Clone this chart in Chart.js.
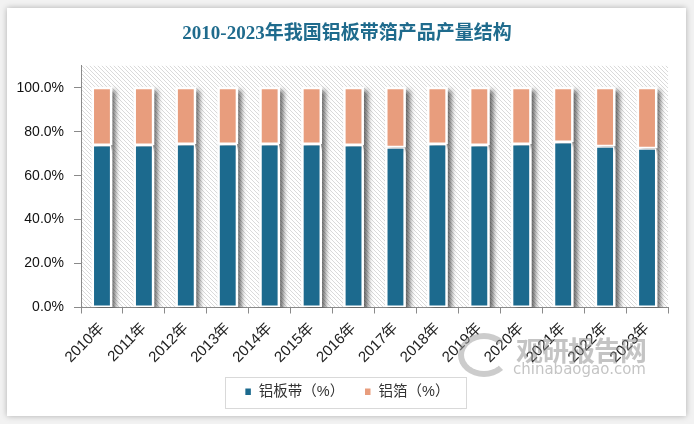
<!DOCTYPE html>
<html>
<head>
<meta charset="utf-8">
<script src="https://cdn.jsdelivr.net/npm/chart.js@4/dist/chart.umd.min.js"></script>
<style>
  html,body{margin:0;padding:0;background:#f2f2f2;}
  #wrap{position:relative;width:694px;height:424px;overflow:hidden;}
  #card{position:absolute;left:7px;top:8px;width:679px;height:408px;background:#fff;box-shadow:0 0 6px rgba(0,0,0,0.28);}
  canvas{position:absolute;left:0;top:0;}
  #wm{position:absolute;left:458px;top:330px;pointer-events:none;opacity:0.5;}
  #wm .ring{position:absolute;left:0;top:3px;width:40px;height:32px;border:6px solid #9a9a9a;border-radius:50%;border-right-color:transparent;}
  #wm .cn{position:absolute;left:58px;top:0;font:bold 27px "Noto Sans CJK SC";color:#8a8a8a;white-space:nowrap;letter-spacing:-1px;}
  #wm .en{position:absolute;left:55px;top:30px;font:15px "DejaVu Sans";color:#8a8a8a;white-space:nowrap;}
</style>
</head>
<body>
<div id="wrap">
  <div id="card"></div>
  <canvas id="grafico" width="694" height="424"></canvas>
  <div id="wm"><div class="ring"></div><div class="cn">观研报告网</div><div class="en">chinabaogao.com</div></div>
</div>
<script>
const anos = ['2010年','2011年','2012年','2013年','2014年','2015年','2016年','2017年','2018年','2019年','2020年','2021年','2022年','2023年'];
const chapa = [73.9,73.9,74.4,74.4,74.4,74.4,73.9,72.9,74.4,73.9,74.4,75.3,73.4,72.5];
const folha = [26.1,26.1,25.6,25.6,25.6,25.6,26.1,27.1,25.6,26.1,25.6,24.7,26.6,27.5];
const yTicks = [0,20,40,60,80,100];

function hatch(){
  const c=document.createElement('canvas'); c.width=c.height=4;
  const g=c.getContext('2d');
  g.fillStyle='#fff'; g.fillRect(0,0,4,4);
  g.strokeStyle='#dadada'; g.lineWidth=1;
  g.beginPath();
  g.moveTo(0,0); g.lineTo(4,4);
  g.moveTo(-1,3); g.lineTo(1,5);
  g.moveTo(3,-1); g.lineTo(5,1);
  g.stroke();
  return c;
}

const fundo = {
  id:'fundo',
  beforeDraw(chart){
    const {ctx,chartArea:a}=chart;
    ctx.save();
    ctx.fillStyle=ctx.createPattern(hatch(),'repeat');
    ctx.fillRect(a.left,a.top,a.right-a.left,a.bottom-a.top);
    ctx.restore();
  }
};

// shadow + white outline under the bars
const sombra = {
  id:'sombra',
  beforeDatasetsDraw(chart){
    const {ctx,chartArea:a}=chart;
    ctx.save();
    ctx.beginPath(); ctx.rect(a.left,a.top,a.right-a.left,a.bottom-a.top); ctx.clip();
    ctx.shadowColor='rgba(0,0,0,0.6)';
    ctx.shadowBlur=5;
    ctx.shadowOffsetX=4;
    ctx.shadowOffsetY=3;
    ctx.fillStyle='#fff';
    chart.getSortedVisibleDatasetMetas().forEach(meta=>{
      meta.data.forEach(bar=>{
        const {x,y,base,width}=bar.getProps(['x','y','base','width'],true);
        ctx.fillRect(x-width/2-1,Math.min(y,base)-1,width+2,Math.abs(base-y)+1);
      });
    });
    ctx.restore();
  }
};

const caixaLegenda = {
  id:'caixaLegenda',
  afterDraw(chart){
    const hb=chart.legend.legendHitBoxes;
    if(!hb||!hb.length) return;
    const l=Math.min(...hb.map(h=>h.left))-20;
    const r=Math.max(...hb.map(h=>h.left+h.width))+16;
    const t=hb[0].top-8, b=hb[0].top+hb[0].height+8;
    const ctx=chart.ctx;
    ctx.save();
    ctx.strokeStyle='#d9d9d9'; ctx.lineWidth=1;
    ctx.strokeRect(Math.round(l)+0.5,Math.round(t)+0.5,Math.round(r-l),Math.round(b-t));
    ctx.restore();
  }
};

new Chart(grafico,{
  type:'bar',
  data:{
    labels:anos,
    datasets:[
      {label:'铝板带（%）',data:chapa,backgroundColor:'#1c6a8e',borderColor:'#fff',borderWidth:1.5,borderSkipped:false,barPercentage:0.45,categoryPercentage:1},
      {label:'铝箔（%）',data:folha,backgroundColor:'#e89d7d',borderColor:'#fff',borderWidth:1.5,borderSkipped:false,barPercentage:0.45,categoryPercentage:1}
    ]
  },
  options:{
    responsive:false,
    animation:false,
    layout:{padding:{left:0,right:0,top:0,bottom:15}},
    plugins:{
      title:{display:true,text:'2010-2023年我国铝板带箔产品产量结构',color:'#1f6b8d',
        font:{family:'"Liberation Serif","Noto Sans CJK SC"',size:19,weight:'bold'},padding:{top:23,bottom:20}},
      legend:{position:'bottom',
        labels:{color:'#333',boxWidth:7,boxHeight:8,padding:20,
          font:{family:'"Liberation Sans","Noto Sans CJK SC"',size:14.5}}},
      tooltip:{enabled:false}
    },
    scales:{
      x:{stacked:true,
        grid:{display:true,drawOnChartArea:false,tickLength:6,color:'#8a8a8a',offset:true},
        border:{color:'#8a8a8a'},
        ticks:{color:'#222',minRotation:45,maxRotation:45,padding:6,
          font:{family:'"Liberation Sans","Noto Sans CJK SC"',size:15}},
        afterFit(s){s.height=57;}
      },
      y:{stacked:true,min:0,max:110,
        grid:{drawOnChartArea:false,tickLength:7,color:'#8a8a8a'},
        border:{color:'#8a8a8a'},
        afterBuildTicks(s){s.ticks=yTicks.map(v=>({value:v}));},
        ticks:{color:'#111',padding:10,
          font:{family:'"Liberation Sans","Noto Sans CJK SC"',size:14},
          callback:v=>v.toFixed(1)+'%'},
        afterFit(s){s.width=81;}
      },
      margem:{position:'right',display:true,
        grid:{display:false},border:{display:false},ticks:{display:false},
        afterFit(s){s.width=26;}
      }
    }
  },
  plugins:[fundo,sombra,caixaLegenda]
});
</script>
</body>
</html>
